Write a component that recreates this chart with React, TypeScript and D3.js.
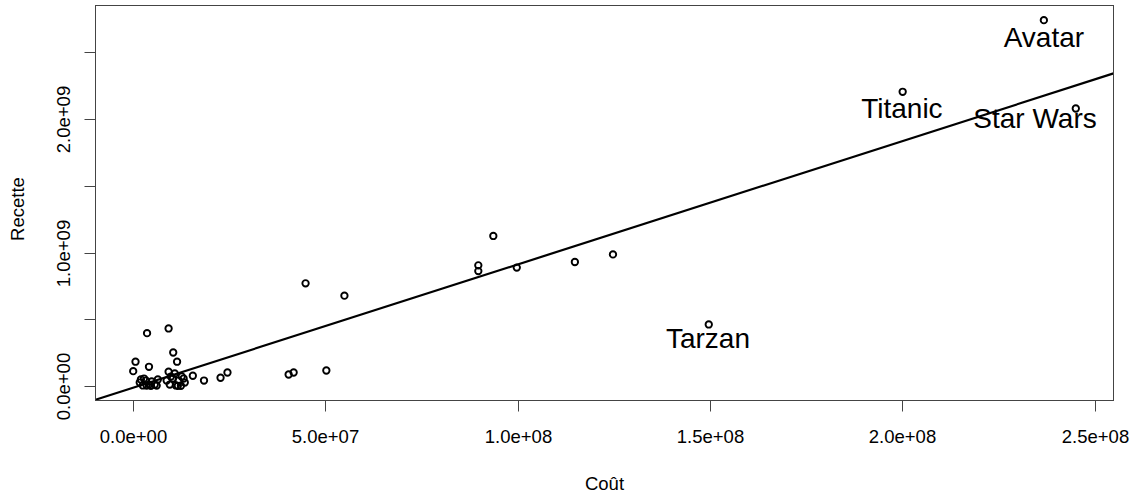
import React from 'react';
import * as d3 from 'd3';

// films: cost (budget) and revenue, in dollars
const movieCost = [
  3.7e6, 9.3e6, 10.5e6, 0.7e6, 0.1e6, 4.2e6, 11.5e6, 9.3e6, 15.6e6, 18.5e6,
  22.8e6, 24.6e6, 40.5e6, 41.8e6, 50.3e6, 44.9e6, 55.0e6, 89.8e6, 89.8e6, 93.7e6,
  99.8e6, 114.9e6, 124.8e6, 149.7e6, 200.1e6, 245.1e6, 236.8e6,
  1.8e6, 2.6e6, 3.4e6, 4.2e6, 4.9e6, 5.7e6, 6.5e6, 2.9e6, 4.7e6, 6.2e6, 3.6e6, 2.1e6,
  8.8e6, 9.6e6, 10.4e6, 11.2e6, 11.9e6, 12.7e6, 12.5e6, 13.5e6, 9.9e6, 11.7e6, 13.2e6, 10.9e6,
];
const movieRevenue = [
  396e6, 431e6, 251e6, 182e6, 111e6, 144e6, 182e6, 107e6, 77e6, 41e6,
  62e6, 101e6, 86e6, 101e6, 116e6, 769e6, 677e6, 904e6, 861e6, 1124e6,
  887e6, 929e6, 986e6, 461e6, 2204e6, 2079e6, 2741e6,
  26e6, 4e6, 41e6, 11e6, 34e6, 11e6, 49e6, 56e6, 2e6, 3e6, 3e6, 49e6,
  41e6, 11e6, 56e6, 4e6, 41e6, 71e6, 2e6, 26e6, 71e6, 1e6, 56e6, 94e6,
];

// text labels (centre of the text, in data units)
const labelNames = ['Avatar', 'Titanic', 'Star Wars', 'Tarzan'];
const labelCost = [236.8e6, 199.9e6, 234.5e6, 149.5e6];
const labelRevenue = [2616e6, 2081e6, 2006e6, 356e6];

// fitted line Recette ~ Coût
const regIntercept = -1.35e7;
const regSlope = 9.24;

const xTicks = [0, 5e7, 1e8, 1.5e8, 2e8, 2.5e8];
const xTickLabels = ['0.0e+00', '5.0e+07', '1.0e+08', '1.5e+08', '2.0e+08', '2.5e+08'];
const yTicks = [0, 5e8, 1e9, 1.5e9, 2e9, 2.5e9];
const yTickLabels = ['0.0e+00', '', '1.0e+09', '', '2.0e+09', ''];

const W = 1134;
const H = 498;
const box = { left: 95.5, right: 1113.5, top: 5.5, bottom: 400.5 };
const FONT = '"Liberation Sans", Arial, sans-serif';

// R style range: data extent padded by 4% each side
const rRange = (vals: number[]) => {
  const [lo, hi] = d3.extent(vals) as [number, number];
  const pad = (hi - lo) * 0.04;
  return [lo - pad, hi + pad];
};

export default function App() {
  const x = d3.scaleLinear().domain(rRange(movieCost)).range([box.left, box.right]);
  const y = d3.scaleLinear().domain(rRange(movieRevenue)).range([box.bottom, box.top]);
  const [x0, x1] = x.domain();
  const line = d3.line<number>()
    .x(d => x(d))
    .y(d => y(regIntercept + regSlope * d));

  return (
    <svg width={W} height={H} style={{ position: 'absolute', left: 0, top: 0, background: '#fff' }}
      fontFamily={FONT}>
      <defs>
        <clipPath id="plotclip">
          <rect x={box.left} y={box.top} width={box.right - box.left} height={box.bottom - box.top} />
        </clipPath>
      </defs>

      <g clipPath="url(#plotclip)">
        {movieCost.map((c, i) => (
          <circle key={i} cx={x(c)} cy={y(movieRevenue[i])} r={3.2}
            fill="none" stroke="#000" strokeWidth={1.9} />
        ))}
        {labelNames.map((n, i) => (
          <text key={n} x={x(labelCost[i])} y={y(labelRevenue[i])} dy="0.35em"
            textAnchor="middle" fontSize={28} fill="#000">{n}</text>
        ))}
        <path d={line([x0, x1]) || ''} fill="none" stroke="#000" strokeWidth={2.2} />
      </g>

      <rect x={box.left} y={box.top} width={box.right - box.left} height={box.bottom - box.top}
        fill="none" stroke="#444" strokeWidth={1} />

      {xTicks.map((t, i) => (
        <g key={t} transform={`translate(${Math.round(x(t)) + 0.5},${box.bottom})`}>
          <line y2={11} stroke="#444" />
          <text y={42.5} textAnchor="middle" fontSize={18.5} fill="#000">{xTickLabels[i]}</text>
        </g>
      ))}
      {yTicks.map((t, i) => (
        <g key={t} transform={`translate(${box.left},${Math.round(y(t)) + 0.5})`}>
          <line x2={-11} stroke="#444" />
          {yTickLabels[i] && (
            <text transform="translate(-26,0) rotate(-90)" textAnchor="middle" fontSize={18.5}
              fill="#000">{yTickLabels[i]}</text>
          )}
        </g>
      ))}

      <text x={(box.left + box.right) / 2} y={490} textAnchor="middle" fontSize={18.5} fill="#000">Coût</text>
      <text transform={`translate(24,${(box.top + box.bottom) / 2 + 6}) rotate(-90)`} textAnchor="middle"
        fontSize={18.5} fill="#000">Recette</text>
    </svg>
  );
}
